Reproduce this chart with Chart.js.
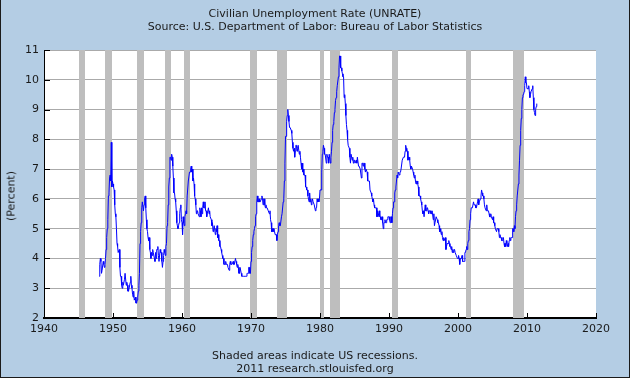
<!DOCTYPE html>
<html>
<head>
<meta charset="utf-8">
<script src="https://cdn.jsdelivr.net/npm/chart.js@4.4.1/dist/chart.umd.min.js"></script>
<style>
html, body { margin: 0; padding: 0; }
#wrap { position: relative; width: 630px; height: 378px; background: #b4cde4; overflow: hidden;
  font-family: "DejaVu Sans", sans-serif; color: #1a1a1a; }
#frame { position: absolute; left: 0; top: 0; width: 630px; height: 378px; box-sizing: border-box;
  border: 1px solid #1a1a1a; border-top: none; pointer-events: none; }
.txt { position: absolute; left: 0; width: 630px; text-align: center; font-size: 11px; line-height: 13px; white-space: nowrap; }
#ylab { position: absolute; left: 11px; top: 196px; font-size: 11px; white-space: nowrap;
  transform: translate(-50%, -50%) rotate(-90deg); }
canvas { position: absolute; left: 0; top: 0; }
</style>
</head>
<body>
<div id="wrap">
  <canvas id="unrateChart" width="630" height="378"></canvas>
  <div class="txt" style="top:7px">Civilian Unemployment Rate (UNRATE)</div>
  <div class="txt" style="top:20px">Source: U.S. Department of Labor: Bureau of Labor Statistics</div>
  <div id="ylab">(Percent)</div>
  <div class="txt" style="top:349px">Shaded areas indicate US recessions.</div>
  <div class="txt" style="top:362px">2011 research.stlouisfed.org</div>
  <div id="frame"></div>
</div>
<script>
// monthly unemployment rate, starting Jan 1948
const firstYear = 1948;
const rate1940s = [3.4,3.8,4.0,3.9,3.5,3.6,3.6,3.9,3.8,3.7,3.8,4.0,
  4.3,4.7,5.0,5.3,6.1,6.2,6.7,6.8,6.6,7.9,6.4,6.6];
const rate1950s = [6.5,6.4,6.3,5.8,5.5,5.4,5.0,4.5,4.4,4.2,4.2,4.3,
  3.7,3.4,3.4,3.1,3.0,3.2,3.1,3.1,3.3,3.5,3.5,3.1,
  3.2,3.1,2.9,2.9,3.0,3.0,3.2,3.4,3.1,3.0,2.8,2.7,
  2.9,2.6,2.6,2.7,2.5,2.5,2.6,2.7,2.9,3.1,3.5,4.5,
  4.9,5.2,5.7,5.9,5.9,5.6,5.8,6.0,6.1,5.7,5.3,5.0,
  4.9,4.7,4.6,4.7,4.3,4.2,4.0,4.2,4.1,4.3,4.2,4.2,
  4.0,3.9,4.2,4.0,4.3,4.3,4.4,4.1,3.9,3.9,4.3,4.2,
  4.2,3.9,3.7,3.9,4.1,4.3,4.2,4.1,4.4,4.5,5.1,5.2,
  5.8,6.4,6.7,7.4,7.4,7.3,7.5,7.4,7.1,6.7,6.2,6.2,
  6.0,5.9,5.6,5.2,5.1,5.0,5.1,5.2,5.5,5.7,5.8,5.3];
const rate1960s = [5.2,4.8,5.4,5.2,5.1,5.4,5.5,5.6,5.5,6.1,6.1,6.6,
  6.6,6.9,6.9,7.0,7.1,6.9,7.0,6.6,6.7,6.5,6.1,6.0,
  5.8,5.5,5.6,5.6,5.5,5.5,5.4,5.7,5.6,5.4,5.7,5.5,
  5.7,5.9,5.7,5.7,5.9,5.6,5.6,5.4,5.5,5.5,5.7,5.5,
  5.6,5.4,5.4,5.3,5.1,5.2,4.9,5.0,5.1,5.1,4.8,5.0,
  4.9,5.1,4.7,4.8,4.6,4.6,4.4,4.4,4.3,4.2,4.1,4.0,
  4.0,3.8,3.8,3.8,3.9,3.8,3.8,3.8,3.7,3.7,3.6,3.8,
  3.9,3.8,3.8,3.8,3.8,3.9,3.8,3.8,3.8,4.0,3.9,3.8,
  3.7,3.8,3.7,3.5,3.5,3.7,3.7,3.5,3.4,3.4,3.4,3.4,
  3.4,3.4,3.4,3.4,3.4,3.5,3.5,3.5,3.7,3.7,3.5,3.5];
const rate1970s = [3.9,4.2,4.4,4.6,4.8,4.9,5.0,5.1,5.4,5.5,5.9,6.1,
  5.9,5.9,6.0,5.9,5.9,5.9,6.0,6.1,6.0,5.8,6.0,6.0,
  5.8,5.7,5.8,5.7,5.7,5.7,5.6,5.6,5.5,5.6,5.3,5.2,
  4.9,5.0,4.9,5.0,4.9,4.9,4.8,4.8,4.8,4.6,4.8,4.9,
  5.1,5.2,5.1,5.1,5.1,5.4,5.5,5.5,5.9,6.0,6.6,7.2,
  8.1,8.1,8.6,8.8,9.0,8.8,8.6,8.4,8.4,8.4,8.3,8.2,
  7.9,7.7,7.6,7.7,7.4,7.6,7.8,7.8,7.6,7.7,7.8,7.8,
  7.5,7.6,7.4,7.2,7.0,7.2,6.9,7.0,6.8,6.8,6.8,6.4,
  6.4,6.3,6.3,6.1,6.0,5.9,6.2,5.9,6.0,5.8,5.9,6.0,
  5.9,5.9,5.8,5.8,5.6,5.7,5.7,6.0,5.9,6.0,5.9,6.0];
const rate1980s = [6.3,6.3,6.3,6.9,7.5,7.6,7.8,7.7,7.5,7.5,7.5,7.2,
  7.5,7.4,7.4,7.2,7.5,7.5,7.2,7.4,7.6,7.9,8.3,8.5,
  8.6,8.9,9.0,9.3,9.4,9.6,9.8,9.8,10.1,10.4,10.8,10.8,
  10.4,10.4,10.3,10.2,10.1,10.1,9.4,9.5,9.2,8.8,8.5,8.3,
  8.0,7.8,7.8,7.7,7.4,7.2,7.5,7.5,7.3,7.4,7.2,7.3,
  7.3,7.2,7.2,7.3,7.2,7.4,7.4,7.1,7.1,7.1,7.0,7.0,
  6.7,7.2,7.2,7.1,7.2,7.2,7.0,6.9,7.0,7.0,6.9,6.6,
  6.6,6.6,6.6,6.3,6.3,6.2,6.1,6.0,5.9,6.0,5.8,5.7,
  5.7,5.7,5.7,5.4,5.6,5.4,5.4,5.6,5.4,5.4,5.3,5.3,
  5.4,5.2,5.0,5.2,5.2,5.3,5.2,5.2,5.3,5.3,5.4,5.4];
const rate1990s = [5.4,5.3,5.2,5.4,5.4,5.2,5.5,5.7,5.9,5.9,6.2,6.3,
  6.4,6.6,6.8,6.7,6.9,6.9,6.8,6.9,6.9,7.0,7.0,7.3,
  7.3,7.4,7.4,7.4,7.6,7.8,7.7,7.6,7.6,7.3,7.4,7.4,
  7.3,7.1,7.0,7.1,7.1,7.0,6.9,6.8,6.7,6.8,6.6,6.5,
  6.6,6.6,6.5,6.4,6.1,6.1,6.1,6.0,5.9,5.8,5.6,5.5,
  5.6,5.4,5.4,5.8,5.6,5.6,5.7,5.7,5.6,5.5,5.6,5.6,
  5.6,5.5,5.5,5.6,5.6,5.3,5.5,5.1,5.2,5.2,5.4,5.4,
  5.3,5.2,5.2,5.1,4.9,5.0,4.9,4.8,4.9,4.7,4.6,4.7,
  4.6,4.6,4.7,4.3,4.4,4.5,4.5,4.5,4.6,4.5,4.4,4.4,
  4.3,4.4,4.2,4.3,4.2,4.3,4.3,4.2,4.2,4.1,4.1,4.0];
const rate2000s = [4.0,4.1,4.0,3.8,4.0,4.0,4.0,4.1,3.9,3.9,3.9,3.9,
  4.2,4.2,4.3,4.4,4.3,4.5,4.6,4.9,5.0,5.3,5.5,5.7,
  5.7,5.7,5.7,5.9,5.8,5.8,5.8,5.7,5.7,5.7,5.9,6.0,
  5.8,5.9,5.9,6.0,6.1,6.3,6.2,6.1,6.1,6.0,5.8,5.7,
  5.7,5.6,5.8,5.6,5.6,5.6,5.5,5.4,5.4,5.5,5.4,5.4,
  5.3,5.4,5.2,5.2,5.1,5.0,5.0,4.9,5.0,5.0,5.0,4.9,
  4.7,4.8,4.7,4.7,4.6,4.6,4.7,4.7,4.5,4.4,4.5,4.4,
  4.6,4.5,4.4,4.5,4.4,4.6,4.7,4.6,4.7,4.7,4.7,5.0,
  5.0,4.9,5.1,5.0,5.4,5.6,5.8,6.1,6.1,6.5,6.8,7.3,
  7.8,8.3,8.7,9.0,9.4,9.5,9.5,9.6,9.8,10.1,9.9,9.9];
const rate2010s = [9.7,9.7,9.7,9.8,9.6,9.4,9.5,9.6,9.6,9.7,9.8,9.4,
  9.0,8.9,8.8,9.0,9.1,9.2];

const xTicks = [1940, 1950, 1960, 1970, 1980, 1990, 2000, 2010, 2020];
const yTicks = [2, 3, 4, 5, 6, 7, 8, 9, 10, 11];

// NBER recessions, as decimal years (peak month to trough month)
const recessionStart = [1945.08, 1948.83, 1953.5, 1957.58, 1960.25, 1969.92, 1973.83, 1980.0, 1981.5, 1990.5, 2001.17, 2007.92];
const recessionEnd   = [1945.92, 1949.92, 1954.5, 1958.42, 1961.17, 1970.92, 1975.25, 1980.58, 1982.92, 1991.25, 2001.92, 2009.5];

const allRates = [].concat(rate1940s, rate1950s, rate1960s, rate1970s, rate1980s, rate1990s, rate2000s, rate2010s);
const points = allRates.map((v, i) => ({ x: firstYear + i / 12, y: v }));

const plotBackground = {
  id: 'plotBackground',
  beforeDraw(chart) {
    const { ctx, chartArea: a } = chart;
    ctx.save();
    ctx.fillStyle = '#ffffff';
    ctx.fillRect(a.left, a.top, a.right - a.left, a.bottom - a.top);
    ctx.restore();
  }
};

const recessionBands = {
  id: 'recessionBands',
  beforeDatasetsDraw(chart) {
    const { ctx, chartArea: a, scales: { x } } = chart;
    ctx.save();
    ctx.fillStyle = '#bebebe';
    for (let i = 0; i < recessionStart.length; i++) {
      const x0 = Math.round(x.getPixelForValue(recessionStart[i]));
      const x1 = Math.round(x.getPixelForValue(recessionEnd[i]));
      ctx.fillRect(x0, a.top, x1 - x0, a.bottom - a.top);
    }
    ctx.restore();
  }
};

// tick marks point into the plot
const innerTicks = {
  id: 'innerTicks',
  afterDraw(chart) {
    const { ctx, chartArea: a, scales: { x, y } } = chart;
    ctx.save();
    ctx.strokeStyle = '#000';
    ctx.lineWidth = 1;
    ctx.beginPath();
    xTicks.forEach(t => {
      const px = Math.round(x.getPixelForValue(t)) + 0.5;
      ctx.moveTo(px, a.bottom);
      ctx.lineTo(px, a.bottom - 5);
    });
    yTicks.forEach(t => {
      const py = Math.round(y.getPixelForValue(t)) + 0.5;
      ctx.moveTo(a.left, py);
      ctx.lineTo(a.left + 6, py);
    });
    ctx.stroke();
    ctx.restore();
  }
};

const tickFont = { family: 'DejaVu Sans', size: 11 };
const ctx = document.getElementById('unrateChart').getContext('2d');
const unrateChart = new Chart(ctx, {
  type: 'line',
  data: {
    datasets: [{
      data: points,
      borderColor: '#0000ff',
      borderWidth: 1,
      pointRadius: 0,
      tension: 0,
      fill: false
    }]
  },
  options: {
    responsive: false,
    animation: false,
    events: [],
    layout: { padding: { left: 0, top: 50, right: 34, bottom: 0 } },
    plugins: { legend: { display: false }, tooltip: { enabled: false }, title: { display: false } },
    scales: {
      x: {
        type: 'linear',
        min: 1940,
        max: 2020,
        afterBuildTicks: s => { s.ticks = xTicks.map(v => ({ value: v })); },
        afterFit: s => { s.height = 60; },
        grid: { display: false, drawTicks: false, tickLength: 0 },
        border: { display: true, color: '#000', width: 2 },
        ticks: { color: '#1a1a1a', font: tickFont, padding: 5, maxRotation: 0, autoSkip: false,
          callback: v => String(v) }
      },
      y: {
        min: 2,
        max: 11,
        afterBuildTicks: s => { s.ticks = yTicks.map(v => ({ value: v })); },
        afterFit: s => { s.width = 44; },
        grid: { color: '#aaaaaa', drawTicks: false, tickLength: 0 },
        border: { display: true, color: '#000', width: 1 },
        ticks: { color: '#1a1a1a', font: tickFont, padding: 5, autoSkip: false }
      }
    }
  },
  plugins: [plotBackground, recessionBands, innerTicks]
});
</script>
</body>
</html>
